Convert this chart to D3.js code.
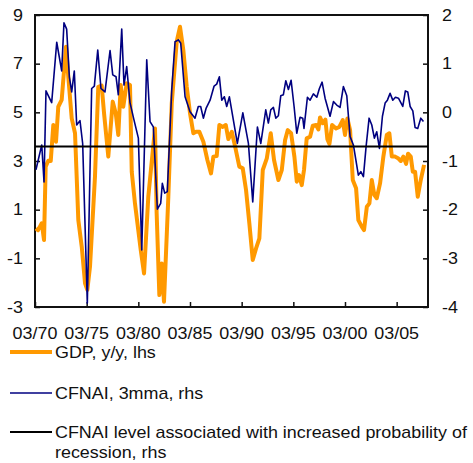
<!DOCTYPE html>
<html>
<head>
<meta charset="utf-8">
<script src="https://cdn.jsdelivr.net/npm/d3@7"></script>
<style>
  body { margin: 0; background: #fff; }
  svg { font-family: "Liberation Sans", Arial, sans-serif; }
</style>
</head>
<body>
<svg id="chart" width="473" height="463"></svg>
<script>
// GDP y/y (lhs), decimal years
const gdpDates = [1970.26, 1970.46, 1970.82, 1971.04, 1971.20, 1971.45, 1971.69, 1971.94, 1972.20, 1972.42,
  1972.75, 1972.97, 1973.17, 1973.39, 1973.72, 1974.04, 1974.36, 1974.69, 1975.01, 1975.23,
  1975.49, 1975.97, 1976.29, 1976.62, 1976.85, 1977.26, 1977.69, 1977.98, 1978.23, 1978.46,
  1978.71, 1979.04, 1979.36, 1979.53, 1979.84, 1980.40, 1980.72, 1981.13, 1981.78, 1981.94,
  1982.20, 1982.43, 1982.65, 1983.07, 1983.40, 1983.88, 1984.20, 1984.52, 1984.85, 1985.17,
  1985.49, 1985.75, 1986.07, 1986.46, 1986.85, 1987.20, 1987.43, 1987.75, 1988.01, 1988.34,
  1988.63, 1988.88, 1989.21, 1989.53, 1989.94, 1990.27, 1990.59, 1990.91, 1991.24, 1991.56,
  1991.88, 1992.21, 1992.60, 1992.98, 1993.30, 1993.72, 1994.05, 1994.37, 1994.63, 1994.95,
  1995.27, 1995.50, 1995.72, 1995.98, 1996.20, 1996.46, 1996.79, 1997.05, 1997.37, 1997.59,
  1997.75, 1998.02, 1998.27, 1998.46, 1998.66, 1998.92, 1999.30, 1999.62, 1999.95, 2000.17,
  2000.40, 2000.66, 2000.92, 2001.24, 2001.46, 2001.79, 2002.01, 2002.28, 2002.53, 2002.76,
  2003.01, 2003.24, 2003.56, 2003.88, 2004.21, 2004.46, 2004.70, 2005.02, 2005.34, 2005.57,
  2005.82, 2006.08, 2006.27, 2006.53, 2006.73, 2006.95, 2007.21, 2007.50, 2007.82];
const gdpValues = [0.23, 0.16, 0.44, -0.25, 2.77, 3.01, 3.0, 4.48, 3.79, 5.23,
  5.51, 6.67, 7.70, 6.46, 4.75, 4.14, 0.57, -0.52, -2.03, -2.30,
  -1.34, 2.35, 6.05, 6.10, 4.96, 3.18, 5.44, 4.96, 4.07, 6.12,
  5.23, 6.19, 6.12, 2.56, 1.26, -0.66, -1.62, 1.53, 4.34, 0.85,
  -2.51, -1.21, -2.78, 1.53, 5.37, 7.90, 8.52, 7.56, 6.05, 4.96,
  4.14, 4.2, 4.2, 3.79, 3.04, 2.49, 3.18, 3.2, 4.48, 4.4,
  4.48, 3.9, 4.2, 3.6, 2.77, 2.7, 1.81, 0.44, -1.07, -0.59,
  -0.18, 2.63, 3.11, 4.14, 3.04, 2.22, 2.63, 3.86, 4.27, 4.14,
  3.18, 2.15, 2.42, 2.01, 2.63, 3.93, 4.0, 4.45, 4.48, 4.3,
  4.79, 4.55, 4.7, 3.9, 3.7, 4.48, 4.34, 4.4, 4.68, 4.07,
  4.75, 4.27, 2.22, 1.88, 0.57, 0.30, 0.16, 1.12, 1.26, 2.22,
  1.60, 1.47, 2.08, 3.18, 4.07, 4.14, 3.18, 3.18, 3.1, 3.0,
  3.18, 2.88, 3.3, 3.18, 2.56, 2.56, 1.53, 2.22, 2.84];

// CFNAI 3-month moving average (rhs)
const cfnaiDates = [1970.26, 1970.82, 1971.04, 1971.23, 1971.78, 1972.27, 1972.75, 1972.97, 1973.23, 1973.49,
  1973.72, 1973.97, 1974.20, 1974.52, 1974.78, 1975.23, 1975.65, 1975.91, 1976.24, 1976.55,
  1976.94, 1977.43, 1977.69, 1978.01, 1978.23, 1978.56, 1978.78, 1979.04, 1979.36, 1979.75,
  1980.17, 1980.50, 1980.98, 1981.30, 1981.62, 1982.01, 1982.33, 1982.49, 1982.72, 1982.97,
  1983.40, 1983.72, 1984.04, 1984.27, 1984.69, 1985.17, 1985.65, 1985.97, 1986.20, 1986.46,
  1986.72, 1987.11, 1987.50, 1987.75, 1988.01, 1988.24, 1988.49, 1988.72, 1988.98, 1989.75,
  1990.28, 1990.82, 1991.24, 1991.69, 1992.02, 1992.50, 1992.75, 1992.98, 1993.24, 1993.47,
  1993.72, 1993.95, 1994.20, 1994.44, 1994.69, 1994.95, 1995.24, 1995.50, 1995.82, 1996.08,
  1996.20, 1996.53, 1996.79, 1997.11, 1997.44, 1997.69, 1997.95, 1998.24, 1998.72, 1999.05,
  1999.37, 1999.69, 2000.01, 2000.34, 2000.66, 2000.98, 2001.46, 2001.70, 2001.95, 2002.21,
  2002.50, 2002.76, 2003.01, 2003.24, 2003.50, 2003.79, 2004.05, 2004.27, 2004.53, 2004.79,
  2005.05, 2005.34, 2005.76, 2006.01, 2006.24, 2006.47, 2006.73, 2006.95, 2007.21, 2007.50,
  2007.76];
const cfnaiValues = [-1.18, -0.67, -1.43, 0.44, 0.20, 1.44, 0.85, 1.84, 1.71, 0.73,
  0.42, 0.85, -0.26, -0.17, -0.64, -3.92, 0.49, 0.54, 1.28, 0.49,
  0.42, 1.27, 0.77, 0.73, 0.36, 1.71, 0.56, 0.94, 0.20, -0.16,
  -0.53, -2.83, 1.08, -0.19, -0.30, -1.99, -1.87, -1.46, -1.66, -1.63,
  0.46, 1.45, 1.49, 1.42, 0.32, 0.01, -0.12, 0.12, 0.12, -0.12,
  0.08, 0.25, 0.54, 0.58, 0.73, 0.25, 0.32, 0.12, 0.32, -0.64,
  -0.01, -0.64, -1.84, -0.30, -0.64, 0.05, -0.22, 0.05, 0.10, -0.12,
  -0.07, 0.34, 0.36, 0.65, 0.47, 0.66, 0.12, -0.43, -0.10, -0.12,
  -0.33, 0.31, 0.25, 0.38, 0.31, 0.49, 0.62, 0.29, -0.08, 0.22,
  0.15, 0.10, 0.53, 0.34, -0.50, -0.67, -1.29, -1.22, -1.32, -0.70,
  -0.12, -0.26, -0.53, -0.40, -0.74, -0.08, 0.19, 0.25, 0.39, 0.25,
  0.31, 0.29, 0.12, 0.44, 0.42, 0.12, 0.03, -0.31, -0.33, -0.12,
  -0.19];

const recessionLevel = -0.7;
const leftTicks = [-3, -1, 1, 3, 5, 7, 9];
const rightTicks = [-4, -3, -2, -1, 0, 1, 2];
const xTickYears = [1970, 1975, 1980, 1985, 1990, 1995, 2000, 2005];
const legendLabels = ["GDP, y/y, lhs", "CFNAI, 3mma, rhs",
  "CFNAI level associated with increased probability of", "recession, rhs"];

const svg = d3.select("#chart");
const margin = { left: 35, top: 15, right: 45, bottom: 156 };
const width = 473, height = 463;
const x0 = margin.left, x1 = width - margin.right;
const y0 = margin.top, y1 = height - margin.bottom;

const monthOffset = 2 / 12; // ticks at March
const x = d3.scaleLinear().domain([1970 + monthOffset, 2008.2]).range([x0, x1]);
const yL = d3.scaleLinear().domain([-3, 9]).range([y1, y0]);
const yR = d3.scaleLinear().domain([-4, 2]).range([y1, y0]);

// the original text looks a bit stretched sideways
const stretch = 1.12;
function label(g, tx, ty, str, anchor, dy) {
  return g.append("text")
    .attr("transform", `translate(${tx},${ty}) scale(${stretch},1)`)
    .attr("dy", dy || 0)
    .attr("text-anchor", anchor || "start")
    .attr("font-size", 16).attr("fill", "#111")
    .text(str);
}

// frame
svg.append("rect")
  .attr("x", x0).attr("y", y0)
  .attr("width", x1 - x0).attr("height", y1 - y0)
  .attr("fill", "none").attr("stroke", "#111").attr("stroke-width", 2);

// axes with inward ticks
const axisL = svg.append("g").attr("transform", `translate(${x0},0)`)
  .call(d3.axisRight(yL).tickValues(leftTicks).tickSize(5).tickFormat(""));
const axisR = svg.append("g").attr("transform", `translate(${x1},0)`)
  .call(d3.axisLeft(yR).tickValues(rightTicks).tickSize(5).tickFormat(""));
const axisB = svg.append("g").attr("transform", `translate(0,${y1})`)
  .call(d3.axisTop(x).tickValues(xTickYears.map(d => d + monthOffset)).tickSize(5).tickFormat(""));
[axisL, axisR, axisB].forEach(g => {
  g.select(".domain").remove();
  g.selectAll("line").attr("stroke", "#111").attr("stroke-width", 1.5);
});

const tickText = svg.append("g");
leftTicks.forEach(d => label(tickText, x0 - 12, yL(d), d, "end", "0.36em"));
rightTicks.forEach(d => label(tickText, x1 + 14, yR(d), d, "start", "0.36em"));
xTickYears.forEach(d => label(tickText, x(d + monthOffset), y1 + 32,
  "03/" + String(d % 100).padStart(2, "0"), "middle"));

// series
const gdpLine = d3.line().x(d => x(d[0])).y(d => yL(d[1]));
const cfnaiLine = d3.line().x(d => x(d[0])).y(d => yR(d[1]));

svg.append("path")
  .datum(d3.zip(gdpDates, gdpValues))
  .attr("d", gdpLine)
  .attr("fill", "none").attr("stroke", "#ff9900").attr("stroke-width", 4)
  .attr("stroke-linejoin", "round");

svg.append("path")
  .datum(d3.zip(cfnaiDates, cfnaiValues))
  .attr("d", cfnaiLine)
  .attr("fill", "none").attr("stroke", "#000080").attr("stroke-width", 1.6)
  .attr("stroke-linejoin", "round");

svg.append("line")
  .attr("x1", x0).attr("x2", x1)
  .attr("y1", yR(recessionLevel)).attr("y2", yR(recessionLevel))
  .attr("stroke", "#000").attr("stroke-width", 2);

// legend
const legend = [
  { color: "#ff9900", w: 4, y: 352, lines: [legendLabels[0]] },
  { color: "#000080", w: 1.6, y: 393, lines: [legendLabels[1]] },
  { color: "#000", w: 2, y: 432, lines: [legendLabels[2], legendLabels[3]] }
];
const leg = svg.append("g");
legend.forEach(item => {
  leg.append("line")
    .attr("x1", 10).attr("x2", 52).attr("y1", item.y).attr("y2", item.y)
    .attr("stroke", item.color).attr("stroke-width", item.w);
  item.lines.forEach((t, i) => label(leg, 55, item.y + 6 + i * 20, t, "start"));
});
</script>
</body>
</html>
